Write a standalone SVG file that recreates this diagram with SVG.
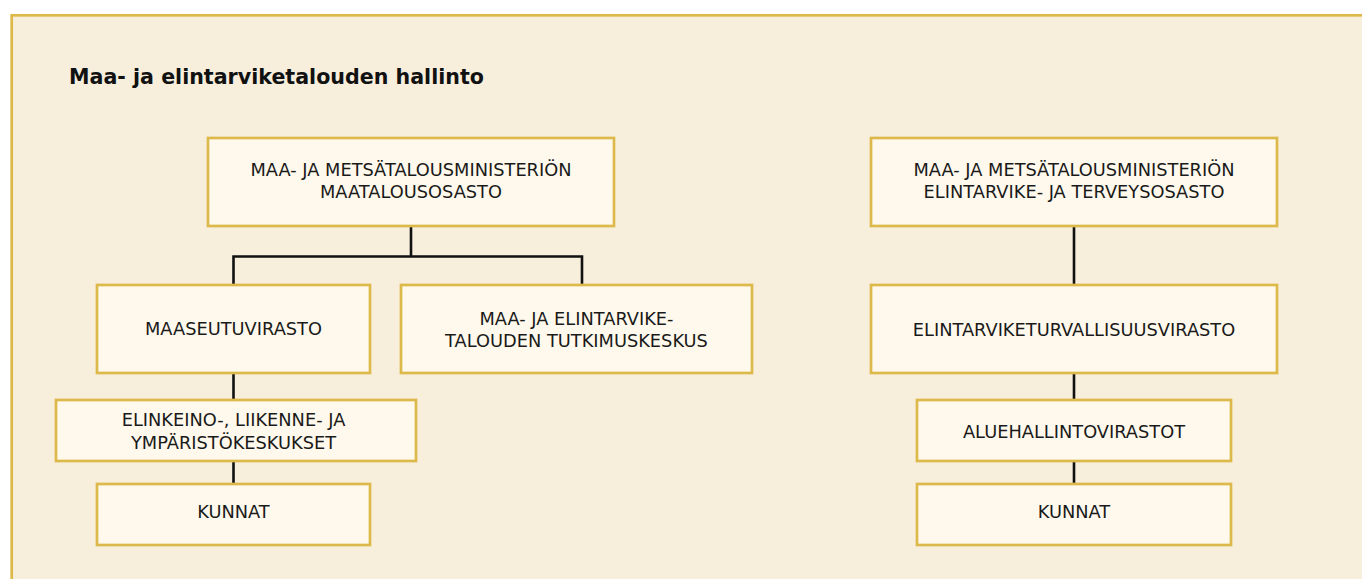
<svg xmlns="http://www.w3.org/2000/svg" width="1362" height="579" viewBox="0 0 1362 579">
<style>
.frame{fill:#F7EEDC;stroke:#DDB94B;stroke-width:2.7}
.box{fill:#FEF9EC;stroke:#DDB94B;stroke-width:2.7}
.t{font-family:"DejaVu Sans",sans-serif;font-size:17.8px;fill:#1A1A1A;text-anchor:middle}
.title{font-family:"DejaVu Sans",sans-serif;font-weight:bold;font-size:20.6px;fill:#111}
.conn{fill:none;stroke:#111;stroke-width:2.6}
</style>
<rect x="0" y="0" width="1362" height="579" fill="#FFFFFF"/>
<rect class="frame" x="11.7" y="15.3" width="1400" height="620"/>
<text class="title" x="69" y="84">Maa- ja elintarviketalouden hallinto</text>
<g id="connectors">
<path class="conn" d="M411 226V256.5M233.5 285V256.5H582V285"/>
<path class="conn" d="M233.5 373V400M233.5 461V484"/>
<path class="conn" d="M1074 226V285M1074 373V400M1074 461V484"/>
</g>
<g id="n-mmm-maatalous">
<rect class="box" x="208" y="138" width="406" height="88"/>
<text class="t" x="411" y="175.7">MAA- JA METSÄTALOUSMINISTERIÖN</text>
<text class="t" x="411" y="198.3">MAATALOUSOSASTO</text>
</g>
<g id="n-maaseutuvirasto">
<rect class="box" x="97" y="285" width="273" height="88"/>
<text class="t" x="233.5" y="335">MAASEUTUVIRASTO</text>
</g>
<g id="n-luke">
<rect class="box" x="401" y="285" width="351" height="88"/>
<text class="t" x="576.5" y="325">MAA- JA ELINTARVIKE-</text>
<text class="t" x="576.5" y="347">TALOUDEN TUTKIMUSKESKUS</text>
</g>
<g id="n-ely">
<rect class="box" x="56" y="400" width="360" height="61"/>
<text class="t" x="233.5" y="426">ELINKEINO-, LIIKENNE- JA</text>
<text class="t" x="233.5" y="449.3">YMPÄRISTÖKESKUKSET</text>
</g>
<g id="n-kunnat-left">
<rect class="box" x="97" y="484" width="273" height="61"/>
<text class="t" x="233.5" y="518.3">KUNNAT</text>
</g>
<g id="n-mmm-elintarvike">
<rect class="box" x="871" y="138" width="406" height="88"/>
<text class="t" x="1074" y="175.7">MAA- JA METSÄTALOUSMINISTERIÖN</text>
<text class="t" x="1074" y="198.3">ELINTARVIKE- JA TERVEYSOSASTO</text>
</g>
<g id="n-evira">
<rect class="box" x="871" y="285" width="406" height="88"/>
<text class="t" x="1074" y="335.7">ELINTARVIKETURVALLISUUSVIRASTO</text>
</g>
<g id="n-avi">
<rect class="box" x="917" y="400" width="314" height="61"/>
<text class="t" x="1074" y="438.3">ALUEHALLINTOVIRASTOT</text>
</g>
<g id="n-kunnat-right">
<rect class="box" x="917" y="484" width="314" height="61"/>
<text class="t" x="1074" y="518.3">KUNNAT</text>
</g>
</svg>
